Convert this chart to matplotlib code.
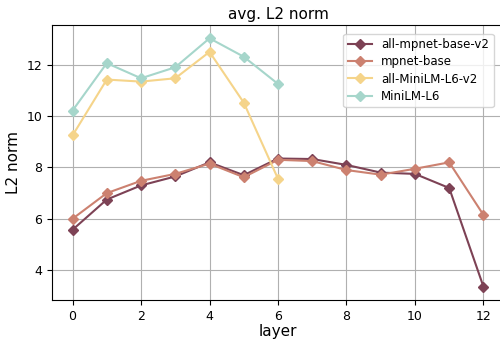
import numpy as np
import matplotlib.pyplot as plt

# avg. L2 norm per layer
layers_base = np.arange(0, 13)
layers_mini = np.arange(0, 7)

all_mpnet_base_v2 = [5.57, 6.75, 7.3, 7.65, 8.2, 7.7, 8.35, 8.33, 8.1, 7.8, 7.75, 7.2, 3.35]
mpnet_base = [6.0, 7.0, 7.48, 7.75, 8.15, 7.62, 8.3, 8.25, 7.9, 7.72, 7.95, 8.2, 6.15]
all_minilm_l6_v2 = [9.25, 11.43, 11.35, 11.48, 12.51, 10.53, 7.56]
minilm_l6 = [10.22, 12.07, 11.48, 11.91, 13.04, 12.32, 11.26]

colors = ['#7d4255', '#cc8170', '#f5d48a', '#a6d6cb']

fig = plt.figure(figsize=(5, 3.4), dpi=100)
ax = fig.add_axes([0.104, 0.1176, 0.904, 0.809])

ax.plot(layers_base, all_mpnet_base_v2, marker='D', markersize=5, lw=1.5, color=colors[0], label='all-mpnet-base-v2')
ax.plot(layers_base, mpnet_base, marker='D', markersize=5, lw=1.5, color=colors[1], label='mpnet-base')
ax.plot(layers_mini, all_minilm_l6_v2, marker='D', markersize=5, lw=1.5, color=colors[2], label='all-MiniLM-L6-v2')
ax.plot(layers_mini, minilm_l6, marker='D', markersize=5, lw=1.5, color=colors[3], label='MiniLM-L6')

ax.set_xlim(-0.6, 12.6)
ax.set_ylim(2.83, 13.56)
ax.set_xticks(np.arange(0, 13, 2))
ax.set_yticks([4, 6, 8, 10, 12])
ax.grid(True, color='#b0b0b0', lw=0.8)
ax.set_axisbelow(True)
ax.tick_params(labelsize=9)

ax.set_title('avg. L2 norm', fontsize=11, pad=4)
ax.set_xlabel('layer', fontsize=11, labelpad=1)
ax.set_ylabel('L2 norm', fontsize=11)
ax.legend(loc='upper right', fontsize=8.5, labelspacing=0.35, handlelength=2.0,
          bbox_to_anchor=(0.99, 0.99))

fig.savefig('out.png', dpi=100)
